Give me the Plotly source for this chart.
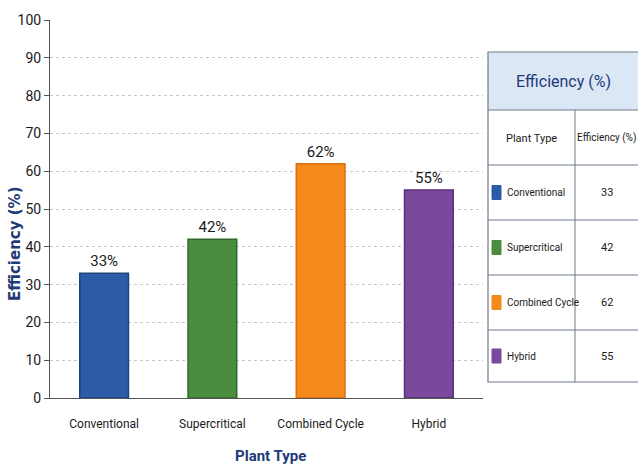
import plotly.graph_objects as go

categories = ["Conventional", "Supercritical", "Combined Cycle", "Hybrid"]
efficiency = [33, 42, 62, 55]
bar_colors = ["#2C5BA8", "#4B8C3E", "#F38A1B", "#7A489C"]
edge_colors = ["#1F437F", "#2F6A2A", "#D97010", "#5A2F7A"]
y_ticks = [0, 10, 20, 30, 40, 50, 60, 70, 80, 90, 100]
table_title = "Efficiency (%)"
table_headers = ["Plant Type", "Efficiency (%)"]
x_title = "Plant Type"
y_title = "Efficiency (%)"

W, H = 638, 473
ML, MR, MT, MB = 50, 155, 20, 75
PW, PH = W - ML - MR, H - MT - MB

def px(x):
    return (x - ML) / PW

def py(y):
    return (H - MB - y) / PH

FONT = "Roboto, sans-serif"
NAVY = "#1F3A78"
TXT = "#1a1a1a"

fig = go.Figure()
fig.add_trace(go.Bar(
    x=categories, y=efficiency,
    marker=dict(color=bar_colors, line=dict(color=edge_colors, width=1.5)),
    width=0.45,
    text=[f"{v}%" for v in efficiency], textposition="outside",
    textfont=dict(family=FONT, size=15, color=TXT),
    cliponaxis=False,
))

shapes = []
annotations = []

x0, x1, xmid = 488, 640, 575
row_edges = [52, 110, 165, 220, 275, 330, 382]
shapes.append(dict(type="rect", xref="paper", yref="paper",
                   x0=px(x0), x1=px(x1), y0=py(row_edges[0]), y1=py(row_edges[1]),
                   fillcolor="#DCE7F5", line=dict(width=0), layer="below"))
shapes.append(dict(type="rect", xref="paper", yref="paper",
                   x0=px(x0), x1=px(x1), y0=py(row_edges[-1]), y1=py(row_edges[0]),
                   line=dict(color="#6F7B8E", width=1.2), fillcolor="rgba(0,0,0,0)"))
for r in row_edges[1:-1]:
    shapes.append(dict(type="line", xref="paper", yref="paper",
                       x0=px(x0), x1=px(x1), y0=py(r), y1=py(r),
                       line=dict(color="#6F7B8E", width=1)))
shapes.append(dict(type="line", xref="paper", yref="paper",
                   x0=px(xmid), x1=px(xmid), y0=py(row_edges[1]), y1=py(row_edges[-1]),
                   line=dict(color="#6F7B8E", width=1)))

def ann(x, y, text, size, color=TXT, xanchor="center", family=FONT, weight=400, angle=0):
    annotations.append(dict(xref="paper", yref="paper", x=px(x), y=py(y),
                            xanchor=xanchor, yanchor="middle", text=text, showarrow=False,
                            textangle=angle,
                            font=dict(family=family, size=size, color=color, weight=weight)))

ann((x0 + 638) / 2, 81, table_title, 16, NAVY)
ann((x0 + xmid) / 2, 138, table_headers[0], 11)
ann((xmid + 638) / 2, 138, table_headers[1], 10)
for i, (c, v, col) in enumerate(zip(categories, efficiency, bar_colors)):
    top, bot = row_edges[i + 2], row_edges[i + 3]
    cy = (top + bot) / 2
    shapes.append(dict(type="rect", xref="paper", yref="paper",
                       x0=px(492), x1=px(501), y0=py(cy + 7), y1=py(cy - 7),
                       fillcolor=col, line=dict(color=col, width=1)))
    ann(505, cy, c, 10, xanchor="left")
    ann((xmid + 638) / 2, cy, str(v), 11)

# axis titles
ann(15, 244, y_title, 15, NAVY, family="DejaVu Sans, sans-serif", weight=700, angle=-90)
ann(270, 456, x_title, 15, NAVY, weight=700)

fig.update_layout(
    width=W, height=H,
    margin=dict(l=ML, r=MR, t=MT, b=MB),
    paper_bgcolor="white", plot_bgcolor="white",
    showlegend=False, bargap=0.55,
    shapes=shapes, annotations=annotations,
    font=dict(family=FONT, color=TXT),
)
fig.update_yaxes(
    automargin=False,
    range=[0, 100], tickvals=y_ticks, showgrid=True,
    gridcolor="#C8C8C8", griddash="dot", gridwidth=1,
    showline=True, linecolor="#555555", linewidth=1,
    ticks="outside", ticklen=5, tickcolor="#555555",
    tickfont=dict(family=FONT, size=14, color=TXT),
    zeroline=False,
)
fig.update_xaxes(
    automargin=False,
    showline=True, linecolor="#555555", linewidth=1.2,
    ticks="", ticklabelstandoff=14,
    tickfont=dict(family=FONT, size=12, color=TXT),
)

fig.write_html("out.html")
